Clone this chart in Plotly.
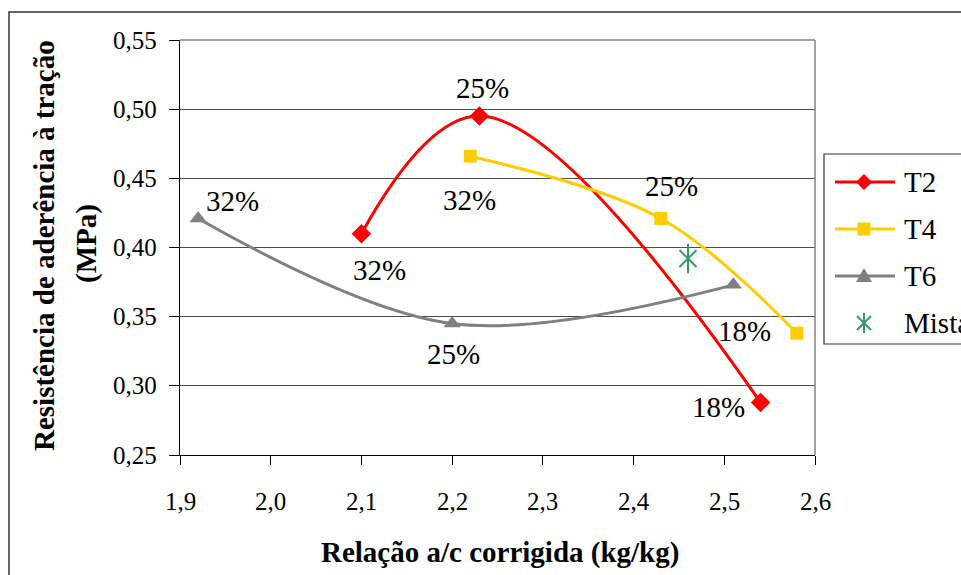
import plotly.graph_objects as go

W, H = 961, 575
FONT = "Times New Roman"

# ---- data -------------------------------------------------------------
t2_x = [2.10, 2.23, 2.54]
t2_y = [0.410, 0.495, 0.288]
t2_labels = ["32%", "25%", "18%"]

t4_x = [2.22, 2.43, 2.58]
t4_y = [0.466, 0.421, 0.338]
t4_labels = ["32%", "25%", "18%"]

t6_x = [1.92, 2.20, 2.51]
t6_y = [0.421, 0.345, 0.373]
t6_labels = ["32%", "25%", ""]

mista_x = [2.46]
mista_y = [0.392]

x_ticks = [1.9, 2.0, 2.1, 2.2, 2.3, 2.4, 2.5, 2.6]
y_ticks = [0.25, 0.30, 0.35, 0.40, 0.45, 0.50, 0.55]

legend_names = ["T2", "T4", "T6", "Mista"]

x_title = "Relação a/c corrigida (kg/kg)"
y_title_1 = "Resistência de aderência à tração"
y_title_2 = "(MPa)"

# ---- styling ----------------------------------------------------------
RED, GOLD, GREY, GREEN = "#FF0000", "#FFCC00", "#808080", "#339966"

# pixel offsets of the percentage labels relative to their points
t2_off = [(18, 36), (3, -28), (-42, 5)]
t4_off = [(-1, 44), (11, -32), (-52, -2)]
t6_off = [(34, -17), (1, 30), (0, 0)]

# plot area in pixels
PL, PR, PT, PB = 180, 815, 40, 455


def px(xp):
    return xp / W


def py(yp):
    return 1 - yp / H


def dec(v, nd):
    return f"{v:.{nd}f}".replace(".", ",")


fig = go.Figure()

series = [
    (t2_x, t2_y, RED, "diamond", 15, 1.1),
    (t4_x, t4_y, GOLD, "square", 13, 1.0),
    (t6_x, t6_y, GREY, "triangle-up", 15, 1.0),
]
for (xs, ys, col, sym, sz, sm), name in zip(series, legend_names):
    fig.add_trace(go.Scatter(
        x=xs, y=ys, mode="lines+markers", name=name,
        line=dict(color=col, width=3, shape="spline", smoothing=sm),
        marker=dict(symbol=sym, size=sz, color=col, line=dict(width=0)),
        showlegend=False, hoverinfo="skip",
    ))

# six-armed asterisk: diagonal cross plus a vertical bar
fig.add_trace(go.Scatter(
    x=mista_x, y=mista_y, mode="markers", name=legend_names[3],
    marker=dict(symbol="x-thin-open", size=17, color=GREEN,
                line=dict(color=GREEN, width=2)),
    showlegend=False, hoverinfo="skip",
))
fig.add_trace(go.Scatter(
    x=mista_x, y=mista_y, mode="markers",
    marker=dict(symbol="line-ns-open", size=21, color=GREEN,
                line=dict(color=GREEN, width=2)),
    showlegend=False, hoverinfo="skip",
))

annotations = []

# tick labels, placed at their axis values
for v in x_ticks:
    annotations.append(dict(
        x=v, y=py(501), xref="x", yref="paper", text=dec(v, 1),
        showarrow=False, xanchor="center", yanchor="middle",
        font=dict(family=FONT, size=25, color="black"),
    ))
for v in y_ticks:
    annotations.append(dict(
        x=px(159), y=v, xref="paper", yref="y", text=dec(v, 2),
        showarrow=False, xanchor="right", yanchor="middle",
        font=dict(family=FONT, size=25, color="black"),
    ))

# percentage labels
for xs, ys, labels, offs in [(t2_x, t2_y, t2_labels, t2_off),
                             (t4_x, t4_y, t4_labels, t4_off),
                             (t6_x, t6_y, t6_labels, t6_off)]:
    for x, y, lab, (dx, dy) in zip(xs, ys, labels, offs):
        if not lab:
            continue
        annotations.append(dict(
            x=x, y=y, xref="x", yref="y", text=lab, showarrow=False,
            xshift=dx, yshift=-dy, xanchor="center", yanchor="middle",
            font=dict(family=FONT, size=29, color="black"),
        ))

# axis titles
annotations.append(dict(
    x=px(500), y=py(552), xref="paper", yref="paper",
    text="<b>" + x_title + "</b>",
    showarrow=False, xanchor="center", yanchor="middle",
    font=dict(family=FONT, size=29, color="black"),
))
annotations.append(dict(
    x=px(44), y=py(246), xref="paper", yref="paper",
    text="<b>" + y_title_1 + "</b>",
    showarrow=False, textangle=-90, xanchor="center", yanchor="middle",
    font=dict(family=FONT, size=29, color="black"),
))
annotations.append(dict(
    x=px(86), y=py(244), xref="paper", yref="paper",
    text="<b>" + y_title_2 + "</b>",
    showarrow=False, textangle=-90, xanchor="center", yanchor="middle",
    font=dict(family=FONT, size=29, color="black"),
))

# ---- legend (line swatches, pixel-sized symbols, labels) --------------
shapes = []
row_y = [182, 229, 276, 323]
sym_paths = {
    "diamond": "M -8 0 L 0 8 L 8 0 L 0 -8 Z",
    "square": "M -6.5 -6.5 L 6.5 -6.5 L 6.5 6.5 L -6.5 6.5 Z",
    "triangle": "M -8 -6 L 8 -6 L 0 8 Z",
}
legend_style = [(RED, "diamond"), (GOLD, "square"), (GREY, "triangle")]
for (col, sym), ry in zip(legend_style, row_y):
    shapes.append(dict(type="line", xref="paper", yref="paper",
                       x0=px(835), x1=px(895), y0=py(ry), y1=py(ry),
                       line=dict(color=col, width=3)))
    shapes.append(dict(type="path", xref="paper", yref="paper",
                       xsizemode="pixel", ysizemode="pixel",
                       xanchor=px(864), yanchor=py(ry), path=sym_paths[sym],
                       fillcolor=col, line=dict(width=0)))
# asterisk symbol for the last entry
ast = row_y[3]
for path in ["M -7 -7 L 7 7", "M -7 7 L 7 -7", "M 0 -10 L 0 10"]:
    shapes.append(dict(type="path", xref="paper", yref="paper",
                       xsizemode="pixel", ysizemode="pixel",
                       xanchor=px(864), yanchor=py(ast), path=path,
                       line=dict(color=GREEN, width=2)))
for name, ry in zip(legend_names, row_y):
    annotations.append(dict(x=px(902), y=py(ry), xref="paper", yref="paper",
                            text=name, showarrow=False,
                            xanchor="left", yanchor="middle",
                            font=dict(family=FONT, size=29, color="black")))

# legend frame
shapes.append(dict(type="rect", xref="paper", yref="paper",
                   x0=px(824), x1=1.05, y0=py(344), y1=py(154),
                   line=dict(color="#333333", width=1.2), layer="below"))
# outer chart frame
shapes.append(dict(type="rect", xref="paper", yref="paper",
                   x0=px(9), x1=1.05, y0=-0.05, y1=py(12),
                   line=dict(color="#333333", width=1.5)))
# grey top and right borders of the plot area
shapes.append(dict(type="line", xref="paper", yref="paper",
                   x0=px(PL), x1=px(PR), y0=py(PT), y1=py(PT),
                   line=dict(color=GREY, width=1.5)))
shapes.append(dict(type="line", xref="paper", yref="paper",
                   x0=px(PR), x1=px(PR), y0=py(PB), y1=py(PT),
                   line=dict(color=GREY, width=1.5)))

fig.update_layout(
    width=W, height=H,
    margin=dict(l=0, r=0, t=0, b=0, autoexpand=False),
    paper_bgcolor="white", plot_bgcolor="white",
    showlegend=False,
    font=dict(family=FONT, color="black"),
    xaxis=dict(
        domain=[px(PL), px(PR)], range=[x_ticks[0], x_ticks[-1]],
        tickvals=x_ticks, showticklabels=False,
        ticks="outside", ticklen=9, tickcolor="black", tickwidth=1,
        showline=True, linecolor="black", linewidth=1,
        showgrid=False, zeroline=False,
    ),
    yaxis=dict(
        domain=[py(PB), py(PT)], range=[y_ticks[0], y_ticks[-1]],
        tickvals=y_ticks, showticklabels=False,
        ticks="outside", ticklen=10, tickcolor="black", tickwidth=1,
        showline=True, linecolor="black", linewidth=1,
        showgrid=True, gridcolor="#4d4d4d", gridwidth=1, zeroline=False,
    ),
    annotations=annotations,
    shapes=shapes,
)

fig.write_html("out.html")
